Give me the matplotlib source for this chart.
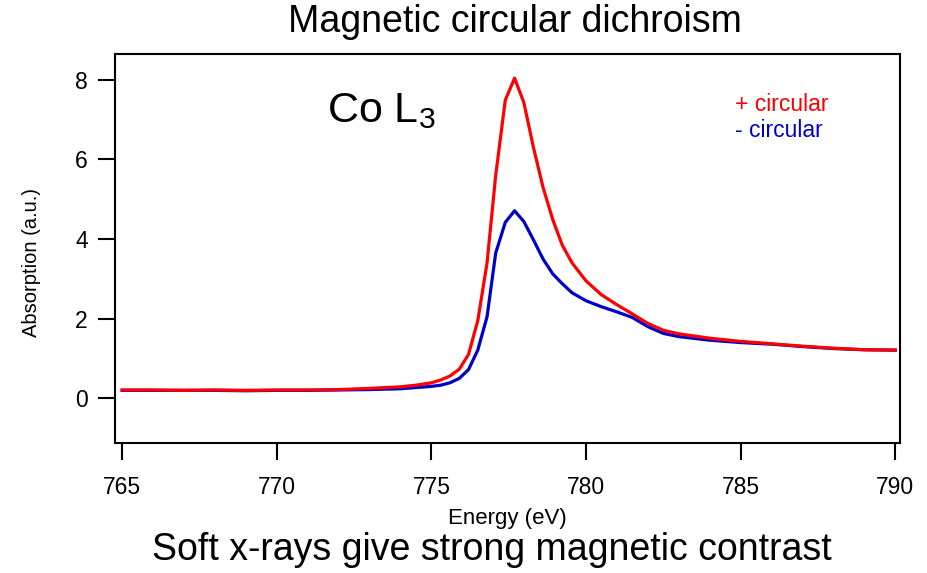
# XMCD spectrum at the Co L3 edge, + and - circular polarisation
import numpy as np
import matplotlib.pyplot as plt

plt.rcParams['font.family'] = ['Liberation Sans', 'DejaVu Sans']
plt.rcParams['mathtext.default'] = 'regular'

# Energy grid (eV)
energy = [765.0, 766.0, 767.0, 768.0, 769.0, 770.0, 771.0, 772.0, 773.0, 774.0,
          774.5, 775.0, 775.3, 775.6, 775.9, 776.2, 776.5, 776.8, 777.08, 777.39,
          777.69, 777.99, 778.3, 778.61, 778.92, 779.23, 779.55, 780.0, 780.5, 781.0,
          781.5, 782.0, 782.5, 783.0, 784.0, 785.0, 786.0, 787.0, 788.0, 789.0, 790.0]

plus_circ = [0.21, 0.21, 0.20, 0.21, 0.20, 0.21, 0.21, 0.22, 0.25, 0.29,
             0.33, 0.39, 0.46, 0.56, 0.73, 1.10, 1.95, 3.40, 5.60, 7.49,
             8.04, 7.43, 6.30, 5.30, 4.50, 3.85, 3.40, 2.95, 2.60, 2.35,
             2.12, 1.88, 1.71, 1.62, 1.51, 1.43, 1.37, 1.31, 1.26, 1.22, 1.21]

minus_circ = [0.20, 0.20, 0.20, 0.20, 0.19, 0.20, 0.20, 0.21, 0.22, 0.24,
              0.27, 0.30, 0.33, 0.39, 0.50, 0.72, 1.21, 2.05, 3.65, 4.42,
              4.71, 4.44, 3.98, 3.50, 3.13, 2.88, 2.65, 2.45, 2.30, 2.17,
              2.03, 1.80, 1.63, 1.55, 1.46, 1.40, 1.36, 1.30, 1.25, 1.22, 1.21]

red = '#ff0000'
blue = '#0000cc'

fig = plt.figure(figsize=(9.28, 5.73), dpi=100)
ax = fig.add_axes([0.124, 0.227, 0.846, 0.679])

ax.plot(energy, minus_circ, color=blue, lw=2.3)
ax.plot(energy, plus_circ, color=red, lw=2.3)

ax.set_xlim(764.77, 790.16)
ax.set_ylim(-1.12, 8.65)
ax.set_xticks([765, 770, 775, 780, 785, 790])
ax.set_yticks([0, 2, 4, 6, 8])
ax.tick_params(direction='out', length=12.5, width=1.5, labelsize=16.5, pad=7)
ax.tick_params(axis='x', pad=11)
for s in ax.spines.values():
    s.set_linewidth(1.5)

ax.set_xlabel('Energy (eV)', fontsize=16, labelpad=7)
ax.set_ylabel('Absorption (a.u.)', fontsize=14.5)
ax.yaxis.set_label_coords(-0.094, 0.465)

ax.text(0.27, 0.825, 'Co L$_3$', transform=ax.transAxes, fontsize=31,
        ha='left', va='baseline')
ax.text(0.79, 0.87, '+ circular', transform=ax.transAxes, fontsize=16.5,
        color=red, ha='left', va='center')
ax.text(0.79, 0.803, '- circular', transform=ax.transAxes, fontsize=16.5,
        color=blue, ha='left', va='center')

fig.text(0.555, 0.962, 'Magnetic circular dichroism', fontsize=27,
         ha='center', va='center')
fig.text(0.53, 0.04, 'Soft x-rays give strong magnetic contrast', fontsize=27,
         ha='center', va='center')

fig.savefig('out.png', dpi=100)
